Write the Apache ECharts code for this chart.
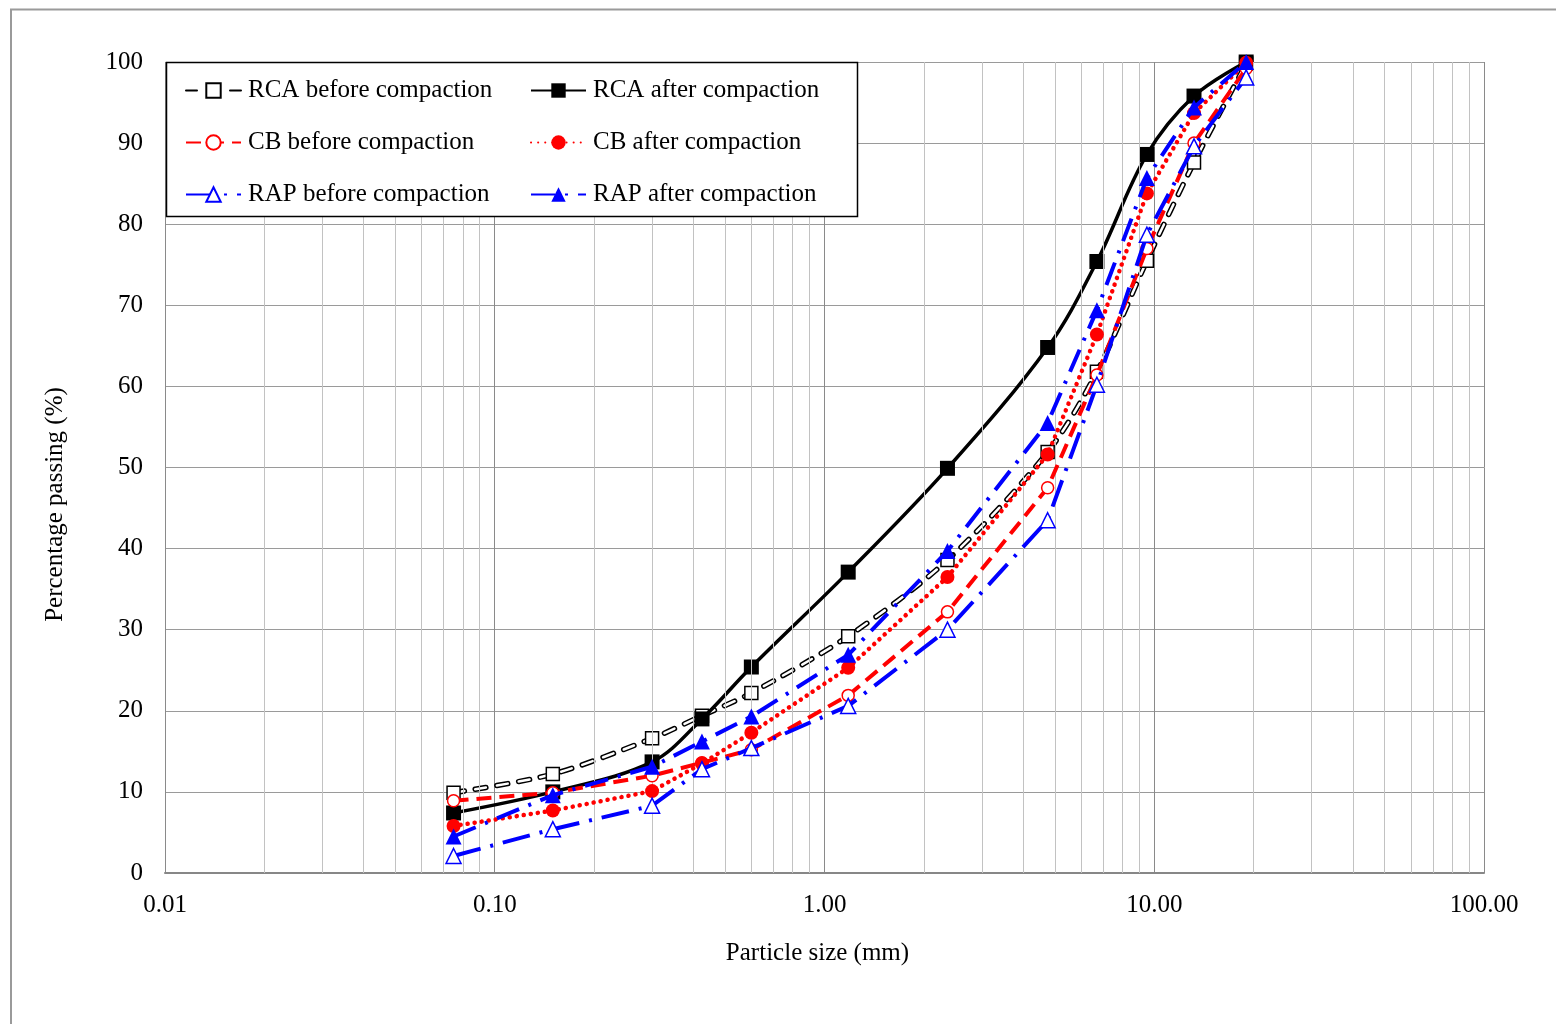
<!DOCTYPE html>
<html>
<head>
<meta charset="utf-8">
<script src="https://cdn.jsdelivr.net/npm/echarts@6/dist/echarts.min.js"></script>
<style>
html,body{margin:0;padding:0;background:#fff;}
#chart{width:1556px;height:1024px;}
</style>
</head>
<body>
<div id="chart"></div>
<script>
// Sieve sizes (mm)
const sizes = [0.075, 0.15, 0.3, 0.425, 0.6, 1.18, 2.36, 4.75, 6.7, 9.5, 13.2, 19];
// Percentage passing (%)
const rcaBefore = [9.9, 12.2, 16.6, 19.4, 22.2, 29.2, 38.6, 51.9, 61.8, 75.5, 87.6, 99.8];
const rcaAfter  = [7.4, 10.0, 13.7, 19.0, 25.4, 37.1, 49.9, 64.8, 75.4, 88.6, 95.8, 100];
const cbBefore  = [8.9, 9.9, 12.0, 13.6, 15.2, 21.9, 32.2, 47.5, 61.4, 77.0, 90.0, 99.2];
const cbAfter   = [5.8, 7.7, 10.1, 13.5, 17.3, 25.3, 36.5, 51.6, 66.4, 83.8, 93.7, 99.9];
const rapBefore = [2.1, 5.4, 8.3, 12.8, 15.4, 20.6, 30.0, 43.5, 60.2, 78.7, 89.6, 98.1];
const rapAfter  = [4.5, 9.6, 13.1, 16.2, 19.3, 26.9, 39.7, 55.5, 69.4, 85.7, 94.4, 100];
// minor log gridlines
const minorGrid = [0.02,0.03,0.04,0.05,0.06,0.07,0.08,0.09,0.2,0.3,0.4,0.5,0.6,0.7,0.8,0.9,2,3,4,5,6,7,8,9,20,30,40,50,60,70,80,90];
const names = ['RCA before compaction','RCA after compaction','CB before compaction','CB after compaction','RAP before compaction','RAP after compaction'];

const FONT = '"Liberation Serif", "Times New Roman", serif';
const pts = arr => sizes.map((s, i) => [s, arr[i]]);

const chart = echarts.init(document.getElementById('chart'), null, {renderer: 'canvas'});
const legendBase = {
  orient: 'vertical', top: 78, padding: 0, itemGap: 27,
  itemWidth: 55, itemHeight: 18, z: 20,
  textStyle: {fontFamily: FONT, fontSize: 25, color: '#000', padding: [0, 0, 0, 2]}
};
const option = {
  backgroundColor: '#fff',
  animation: false,
  textStyle: {fontFamily: FONT, color: '#000'},
  grid: {left: 165, right: 72, top: 62, bottom: 151, containLabel: false},
  xAxis: {
    type: 'log', logBase: 10, min: 0.01, max: 100,
    name: 'Particle size (mm)', nameLocation: 'middle', nameGap: 68,
    nameTextStyle: {fontFamily: FONT, fontSize: 25, color: '#000', padding: [0, 14, 0, 0]},
    axisLine: {show: true, lineStyle: {color: '#878787', width: 2}},
    axisTick: {show: false},
    axisLabel: {fontFamily: FONT, fontSize: 25, color: '#000', margin: 20,
      formatter: v => Number(v).toFixed(2)},
    splitLine: {show: true, lineStyle: {color: '#8a8a8a', width: 1}}
  },
  yAxis: {
    type: 'value', min: 0, max: 100, interval: 10,
    name: 'Percentage passing (%)', nameLocation: 'middle', nameGap: 97,
    nameTextStyle: {fontFamily: FONT, fontSize: 25, color: '#000', padding: [0, 74, 0, 0]},
    axisLine: {show: false}, axisTick: {show: false},
    axisLabel: {fontFamily: FONT, fontSize: 25, color: '#000', margin: 22},
    splitLine: {show: true, lineStyle: {color: '#9a9a9a', width: 1}}
  },
  legend: [
    Object.assign({}, legendBase, {left: 185, data: [names[0], names[2], names[4]]}),
    Object.assign({}, legendBase, {left: 530, data: [names[1], names[3], names[5]]})
  ],
  graphic: [
    {type: 'rect', z: 15, shape: {x: 166.5, y: 62.5, width: 691, height: 154},
     style: {fill: '#fff', stroke: '#000', lineWidth: 1.5}},
    {type: 'rect', z: 0, silent: true, shape: {x: 11, y: 9.5, width: 1700, height: 1200},
     style: {fill: 'none', stroke: '#9a9a9a', lineWidth: 2}}
  ],
  series: [
    {
      name: 'minor', type: 'line', data: [], silent: true, z: 1,
      markLine: {silent: true, symbol: 'none', label: {show: false},
        lineStyle: {color: '#c2c2c2', width: 1, type: 'solid'},
        data: minorGrid.map(v => ({xAxis: v}))}
    },
    {
      name: names[0], type: 'line', z: 3, data: pts(rcaBefore), smooth: 0.3,
      symbol: 'rect', symbolSize: 13,
      lineStyle: {color: '#000', width: 5.5, type: [11, 11], cap: 'round'},
      itemStyle: {color: '#fff', borderColor: '#000', borderWidth: 1.5}
    },
    {
      name: 'rcaBeforeInner', type: 'line', z: 3, data: pts(rcaBefore), smooth: 0.3,
      symbol: 'none', silent: true,
      lineStyle: {color: '#fff', width: 2.5, type: [11, 11], cap: 'round'}
    },
    {
      name: names[1], type: 'line', z: 4, data: pts(rcaAfter), smooth: 0.35,
      symbol: 'rect', symbolSize: 15,
      lineStyle: {color: '#000', width: 3.5},
      itemStyle: {color: '#000'}
    },
    {
      name: names[2], type: 'line', z: 5, data: pts(cbBefore),
      symbol: 'circle', symbolSize: 12,
      lineStyle: {color: '#ff0000', width: 4, type: [15, 8]},
      itemStyle: {color: '#fff', borderColor: '#ff0000', borderWidth: 1.5}
    },
    {
      name: names[3], type: 'line', z: 6, data: pts(cbAfter),
      symbol: 'circle', symbolSize: 14,
      lineStyle: {color: '#ff0000', width: 4.5, type: [0.1, 7], cap: 'round'},
      itemStyle: {color: '#ff0000'}
    },
    {
      name: names[4], type: 'line', z: 7, data: pts(rapBefore),
      symbol: 'triangle', symbolSize: 15,
      lineStyle: {color: '#0000ff', width: 4, type: [28, 10, 3, 10]},
      itemStyle: {color: '#fff', borderColor: '#0000ff', borderWidth: 1.5}
    },
    {
      name: names[5], type: 'line', z: 8, data: pts(rapAfter),
      symbol: 'triangle', symbolSize: 16,
      lineStyle: {color: '#0000ff', width: 4, type: [24, 10, 3, 10]},
      itemStyle: {color: '#0000ff'}
    }
  ]
};
chart.setOption(option);
</script>
</body>
</html>
